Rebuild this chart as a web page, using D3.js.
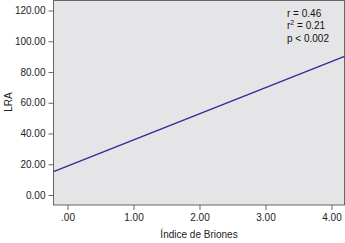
<!DOCTYPE html>
<html lang="es">
<head>
<meta charset="UTF-8">
<script src="https://d3js.org/d3.v7.min.js"></script>
<style>
  body { margin: 0; background: #fff; font-family: "Liberation Sans", Arial, sans-serif; }
  .tick text { font-size: 10px; fill: #222; font-family: "Liberation Sans", Arial, sans-serif; }
  .domain { display: none; }
  .tick line { stroke: #666; }
</style>
</head>
<body>
<svg width="345" height="243"></svg>
<script>
// fitted line LRA = a + b * Briones
const lineX = [-0.212, 4.197];
const intercept = 18.8;
const slope = 17.0;
const xTicks = [0, 1, 2, 3, 4];
const yTicks = [0, 20, 40, 60, 80, 100, 120];
const stats = ["r = 0.46", "r2 = 0.21", "p < 0.002"];

const svg = d3.select("svg");
const mLeft = 53.5, mRight = 344.5, mTop = 0.5, mBottom = 205;

const x = d3.scaleLinear().domain([-0.212, 4.197]).range([mLeft, mRight]);
const y = d3.scaleLinear().domain([-6.5, 126.5]).range([mBottom, mTop]);

svg.append("rect")
  .attr("x", mLeft).attr("y", mTop)
  .attr("width", mRight - mLeft).attr("height", mBottom - mTop)
  .attr("fill", "#e5e5e7")
  .attr("stroke", "#666").attr("stroke-width", 1);

svg.append("g")
  .attr("transform", `translate(0,${mBottom})`)
  .call(d3.axisBottom(x).tickValues(xTicks).tickSize(5).tickPadding(4)
    .tickFormat(d => d === 0 ? ".00" : d3.format(".2f")(d)));

svg.append("g")
  .attr("transform", `translate(${mLeft},0)`)
  .call(d3.axisLeft(y).tickValues(yTicks).tickSize(5).tickPadding(3)
    .tickFormat(d3.format(".2f")));

const pts = lineX.map(v => [v, intercept + slope * v]);
svg.append("path")
  .attr("d", d3.line().x(d => x(d[0])).y(d => y(d[1]))(pts))
  .attr("fill", "none")
  .attr("stroke", "#2e2e96")
  .attr("stroke-width", 1.4);

const txt = svg.append("text")
  .attr("x", 287).attr("y", 17)
  .attr("font-size", 10).attr("fill", "#111");
txt.append("tspan").attr("x", 287).attr("dy", 0).text(stats[0]);
txt.append("tspan").attr("x", 287).attr("dy", 12.3).text("r");
txt.append("tspan").attr("dy", -4).attr("font-size", 7).text("2");
txt.append("tspan").attr("dy", 4).text(stats[1].slice(2));
txt.append("tspan").attr("x", 287).attr("dy", 12.3).text(stats[2]);

svg.append("text")
  .attr("x", 199).attr("y", 238)
  .attr("text-anchor", "middle")
  .attr("font-size", 10).attr("fill", "#222")
  .text("Índice de Briones");

svg.append("text")
  .attr("transform", "translate(12,102) rotate(-90)")
  .attr("text-anchor", "middle")
  .attr("font-size", 10).attr("fill", "#222")
  .text("LRA");
</script>
</body>
</html>
